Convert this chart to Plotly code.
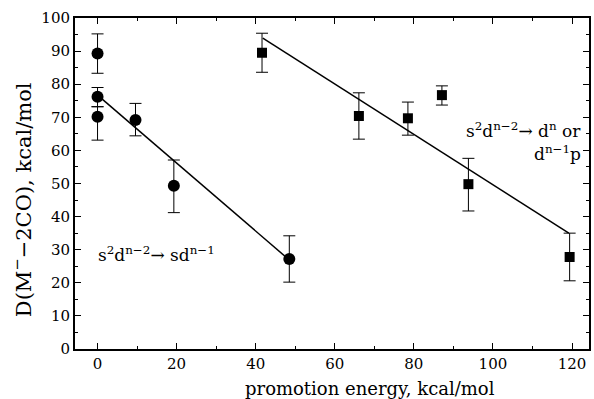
import plotly.graph_objects as go

# Data
circ_x = [0, 0, 0, 9.6, 19.3, 48.5]
circ_y = [89.3, 76.2, 70.2, 69.2, 49.3, 27.2]
circ_hi = [95.2, 79.0, 73.2, 74.2, 57.1, 34.2]
circ_lo = [83.3, 73.2, 63.1, 64.4, 41.2, 20.2]

sq_x = [41.6, 66.1, 78.5, 87.1, 93.8, 119.4]
sq_y = [89.5, 70.4, 69.7, 76.7, 49.8, 27.8]
sq_hi = [95.4, 77.4, 74.6, 79.5, 57.6, 35.0]
sq_lo = [83.6, 63.4, 64.6, 73.7, 41.7, 20.6]

fit1_x = [0, 48.5]
fit1_y = [76.7, 26.9]
fit2_x = [41.8, 119.2]
fit2_y = [93.9, 35.0]

x_ticks = [0, 20, 40, 60, 80, 100, 120]
y_ticks = [0, 10, 20, 30, 40, 50, 60, 70, 80, 90, 100]

FONT = "DejaVu Serif"
W, H = 594, 399
ML, MR, MT, MB = 75, 3, 18, 50

def err(vals, hi, lo):
    return dict(type="data", symmetric=False,
                array=[h - v for v, h in zip(vals, hi)],
                arrayminus=[v - l for v, l in zip(vals, lo)],
                color="black", thickness=1, width=6)

fig = go.Figure()
fig.add_trace(go.Scatter(x=fit1_x, y=fit1_y, mode="lines",
                         line=dict(color="black", width=1.5), showlegend=False))
fig.add_trace(go.Scatter(x=fit2_x, y=fit2_y, mode="lines",
                         line=dict(color="black", width=1.5), showlegend=False))
fig.add_trace(go.Scatter(x=circ_x, y=circ_y, mode="markers",
                         marker=dict(symbol="circle", size=12, color="black"),
                         error_y=err(circ_y, circ_hi, circ_lo), showlegend=False))
fig.add_trace(go.Scatter(x=sq_x, y=sq_y, mode="markers",
                         marker=dict(symbol="square", size=10, color="black"),
                         error_y=err(sq_y, sq_hi, sq_lo), showlegend=False))

axis_common = dict(showline=True, linecolor="black", linewidth=2, mirror="allticks",
                   ticks="inside", ticklen=6, tickwidth=1, tickcolor="black",
                   showgrid=False, zeroline=False,
                   tickfont=dict(family=FONT, size=15, color="black"))

fig.update_xaxes(range=[-5.7, 124.3], tickvals=x_ticks,
                 minor=dict(dtick=10, ticks="inside", ticklen=3, tickcolor="black"),
                 **axis_common)
fig.update_yaxes(range=[0, 100], tickvals=y_ticks,
                 minor=dict(dtick=5, ticks="inside", ticklen=3, tickcolor="black"),
                 **axis_common)

pw = W - ML - MR
ph = H - MT - MB
def px(xp):
    return (xp - ML) / pw
def py(yp):
    return (H - MB - yp) / ph

# Axis titles as annotations (positioned as in the reference)
fig.add_annotation(x=px(371), y=py(388), xref="paper", yref="paper", showarrow=False,
                   xanchor="center", yanchor="middle",
                   text="promotion energy, kcal/mol",
                   font=dict(family=FONT, size=18, color="black"))
fig.add_annotation(x=px(22), y=py(200), xref="paper", yref="paper", showarrow=False,
                   xanchor="center", yanchor="middle",
                   textangle=-90, text="D(M<sup>−</sup>−2CO), kcal/mol",
                   font=dict(family=FONT, size=21, color="black"))

ann_font = dict(family=FONT, size=17, color="black")
fig.add_annotation(x=15, y=28.7, xref="x", yref="y", showarrow=False, xanchor="center",
                   text="s<sup>2</sup>d<sup>n−2</sup>→ sd<sup>n−1</sup>", font=ann_font)
fig.add_annotation(x=122.8, y=66.2, xref="x", yref="y", showarrow=False, xanchor="right",
                   text="s<sup>2</sup>d<sup>n−2</sup>→ d<sup>n</sup> or", font=ann_font)
fig.add_annotation(x=122.8, y=59.2, xref="x", yref="y", showarrow=False, xanchor="right",
                   text="d<sup>n−1</sup>p", font=ann_font)

fig.update_layout(width=W, height=H,
                  margin=dict(l=ML, r=MR, t=MT, b=MB),
                  plot_bgcolor="white", paper_bgcolor="white",
                  font=dict(family=FONT, color="black"))

fig.write_html("out.html", config={"displayModeBar": False})

# remove default page margin so the figure sits at the window origin
with open("out.html", "r", encoding="utf-8") as f:
    html = f.read()
html = html.replace("<head>", "<head><style>html,body{margin:0;padding:0;overflow:hidden;}</style>", 1)
with open("out.html", "w", encoding="utf-8") as f:
    f.write(html)
